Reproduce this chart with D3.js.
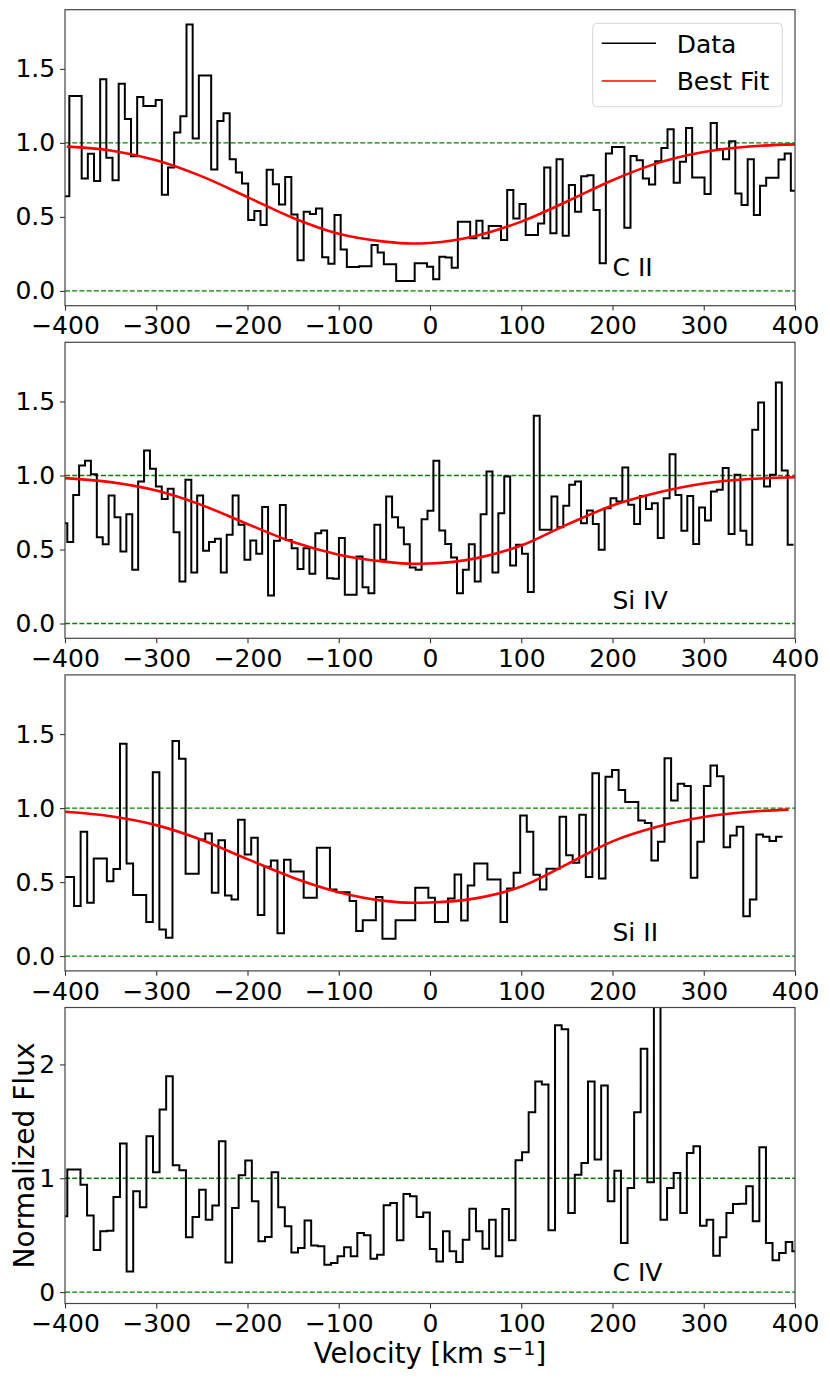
<!DOCTYPE html>
<html>
<head>
<meta charset="utf-8">
<script src="https://cdn.jsdelivr.net/npm/d3@7"></script>
<style>
  body { margin: 0; background: #fff; }
  svg { display: block; font-family: "DejaVu Sans", sans-serif; }
</style>
</head>
<body>
<svg id="chart" width="830" height="1384"></svg>
<script>
// ---- data ----
var velTicks = [-400, -300, -200, -100, 0, 100, 200, 300, 400];
var ionNames = ["C II", "Si IV", "Si II", "C IV"];

// C II : first bin edge and bin width in km/s, then flux per bin
var ciiStart = -402.0, ciiStep = 6.758;
var ciiFlux = [0.64, 1.317, 1.317,
  0.76, 0.926, 0.742, 1.43, 0.90, 0.748, 1.40, 1.162, 0.91, 1.31,
  1.25, 1.25, 1.29, 0.65, 0.834, 1.07, 1.18, 1.80, 1.03, 1.456,
  1.456, 0.82, 1.148, 1.20, 0.89, 0.80, 0.726, 0.479, 0.54, 0.445,
  0.818, 0.72, 0.584, 0.77, 0.517, 0.207, 0.535, 0.52, 0.557, 0.227,
  0.184, 0.512, 0.28, 0.162, 0.162, 0.166, 0.166, 0.31, 0.26, 0.18,
  0.18, 0.067, 0.067, 0.067, 0.186, 0.186, 0.164, 0.079, 0.231, 0.225,
  0.157, 0.467, 0.467, 0.355, 0.474, 0.355, 0.438, 0.438, 0.344, 0.681,
  0.49, 0.587, 0.378, 0.378, 0.456, 0.834, 0.389, 0.89, 0.373, 0.715,
  0.535, 0.775, 0.782, 0.546, 0.187, 0.928, 0.973, 0.973, 0.427, 0.912,
  0.883, 0.76, 0.719, 0.876, 0.966, 1.092, 0.73, 0.872, 1.10, 0.766,
  0.766, 0.654, 1.135, 0.957, 0.89, 1.011, 0.658, 0.58, 0.89, 0.512,
  0.71, 0.764, 0.764, 0.888, 0.928, 0.676];
var ciiFitVel  = [-398, -350, -300, -250, -200, -150, -100, -50, -20, 0, 50, 100, 150, 200, 250, 300, 350, 400];
var ciiFitFlux = [0.975, 0.949, 0.883, 0.774, 0.634, 0.493, 0.386, 0.333, 0.32, 0.324, 0.371, 0.468, 0.604, 0.748, 0.865, 0.939, 0.976, 0.99];

// Si IV
var siivStart = -403.95, siivStep = 6.471;
var siivFlux = [0.678, 0.55, 0.869, 1.068, 1.099, 1.009, 0.583, 0.536, 0.865, 0.718,
  0.486, 0.739, 0.363, 0.959, 1.169, 1.045, 0.926, 0.842, 0.91, 0.617,
  0.284, 0.971, 0.345, 0.865, 0.491, 0.55, 0.572, 0.345, 0.599, 0.865,
  0.667, 0.43, 0.561, 0.471, 0.788, 0.189, 0.559, 0.80, 0.565, 0.509,
  0.369, 0.509, 0.336, 0.61, 0.628, 0.306, 0.302, 0.577, 0.194, 0.194,
  0.453, 0.245, 0.205, 0.667, 0.43, 0.858, 0.718, 0.649, 0.536, 0.378,
  0.363, 0.705, 0.761, 1.099, 0.628, 0.538, 0.446, 0.205, 0.363, 0.536,
  0.284, 0.739, 1.027, 0.345, 0.745, 0.993, 0.392, 0.532, 0.471, 0.212,
  1.403, 0.633, 0.633, 0.858, 0.651, 0.795, 0.937, 0.959, 0.678, 0.764,
  0.673, 0.498, 0.779, 0.847, 0.824, 1.054, 0.802, 0.673, 0.862, 0.773,
  0.813, 0.577, 0.847, 1.144, 0.869, 0.626, 0.862, 0.538, 0.784, 0.696,
  0.892, 0.903, 1.05, 0.604, 1.005, 0.626, 0.532, 1.309, 1.493, 0.926,
  1.005, 1.628, 1.034, 0.532];
var siivFitVel  = [-400, -350, -300, -250, -200, -150, -100, -50, -20, 0, 50, 100, 150, 200, 250, 300, 350, 400];
var siivFitFlux = [0.982, 0.955, 0.898, 0.80, 0.672, 0.55, 0.465, 0.418, 0.403, 0.405, 0.44, 0.527, 0.668, 0.797, 0.885, 0.946, 0.976, 0.988];

// Si II
var siiiStart = -404.45, siiiStep = 7.19;
var siiiFlux = [0.534, 0.534, 0.338, 0.84, 0.36, 0.66, 0.66, 0.505, 0.588, 1.435,
  0.626, 0.412, 0.412, 0.23, 1.243, 0.18, 0.124, 1.453, 1.333, 0.556,
  0.556, 0.788, 0.829, 0.428, 0.782, 0.41, 0.383, 0.921, 0.687, 0.80,
  0.277, 0.604, 0.646, 0.155, 0.651, 0.572, 0.572, 0.394, 0.394, 0.732,
  0.732, 0.45, 0.432, 0.432, 0.372, 0.169, 0.243, 0.243, 0.399, 0.117,
  0.117, 0.243, 0.243, 0.243, 0.462, 0.462, 0.394, 0.23, 0.23, 0.39,
  0.552, 0.241, 0.477, 0.626, 0.626, 0.518, 0.518, 0.23, 0.457, 0.563,
  0.95, 0.84, 0.55, 0.45, 0.59, 0.59, 0.941, 0.682, 0.631, 0.955,
  0.534, 1.236, 0.525, 1.212, 1.257, 1.122, 1.041, 1.041, 0.917, 0.90,
  0.646, 0.773, 1.336, 1.052, 1.164, 1.149, 0.529, 0.773, 1.149, 1.288,
  1.216, 0.736, 0.815, 0.874, 0.27, 0.383, 0.822, 0.806, 0.777, 0.806];
var siiiFitVel  = [-400, -350, -300, -250, -200, -150, -100, -50, -20, 0, 50, 100, 150, 200, 250, 300, 350, 393];
var siiiFitFlux = [0.975, 0.945, 0.885, 0.785, 0.655, 0.53, 0.432, 0.373, 0.36, 0.362, 0.39, 0.47, 0.62, 0.775, 0.875, 0.94, 0.975, 0.99];

// C IV (no fit)
var civStart = -404.7, civStep = 7.223;
var civFlux = [0.666, 1.076, 1.076, 0.944, 0.672, 0.37, 0.534, 0.54, 0.836, 1.305,
  0.182, 0.886, 0.745, 1.37, 1.053, 1.604, 1.897, 1.114, 1.07, 0.481,
  0.66, 0.90, 0.636, 0.76, 1.326, 0.261, 0.739, 1.026, 1.155, 0.798,
  0.446, 0.484, 1.053, 0.745, 0.578, 0.349, 0.387, 0.628, 0.41, 0.402,
  0.24, 0.255, 0.314, 0.393, 0.314, 0.519, 0.499, 0.293, 0.328, 0.762,
  0.783, 0.455, 0.862, 0.842, 0.66, 0.70, 0.378, 0.27, 0.534, 0.358,
  0.264, 0.46, 0.733, 0.534, 0.381, 0.636, 0.314, 0.73, 0.455, 1.158,
  1.229, 1.581, 1.85, 1.824, 0.543, 2.343, 2.308, 0.695, 1.032, 1.135,
  1.85, 1.164, 1.815, 0.798, 1.067, 0.431, 0.915, 1.581, 2.138, 0.965,
  3.0, 0.636, 0.915, 1.047, 0.695, 1.223, 1.282, 0.584, 0.636, 0.32,
  0.481, 0.695, 0.774, 0.777, 0.93, 0.622, 1.273, 0.431, 0.279, 0.343,
  0.44, 0.358];

var fluxTicksA = [0, 0.5, 1, 1.5];
var fluxTicksB = [0, 1, 2];

// ---- layout ----
var left = 65, right = 795, panelTop = 9.7, panelH = 296, panelGap = 332.6;
var svg = d3.select("#chart");
svg.append("rect").attr("width", 830).attr("height", 1384).attr("fill", "#fff");

var panels = [
  {name: ionNames[0], start: ciiStart, step: ciiStep, flux: ciiFlux, fitV: ciiFitVel, fitF: ciiFitFlux, ydom: [-0.1, 1.9], ticks: fluxTicksA, fmt: ".1f"},
  {name: ionNames[1], start: siivStart, step: siivStep, flux: siivFlux, fitV: siivFitVel, fitF: siivFitFlux, ydom: [-0.1, 1.9], ticks: fluxTicksA, fmt: ".1f"},
  {name: ionNames[2], start: siiiStart, step: siiiStep, flux: siiiFlux, fitV: siiiFitVel, fitF: siiiFitFlux, ydom: [-0.1, 1.9], ticks: fluxTicksA, fmt: ".1f"},
  {name: ionNames[3], start: civStart, step: civStep, flux: civFlux, fitV: null, fitF: null, ydom: [-0.1, 2.5], ticks: fluxTicksB, fmt: "d"}
];

var x = d3.scaleLinear().domain([-400, 400]).range([left, right]);

panels.forEach(function(p, i) {
  var top = panelTop + i * panelGap, bottom = top + panelH;
  var y = d3.scaleLinear().domain(p.ydom).range([bottom, top]);
  var g = svg.append("g");

  var clipId = "clip" + i;
  svg.append("clipPath").attr("id", clipId)
    .append("rect").attr("x", left).attr("y", top).attr("width", right - left).attr("height", panelH);

  var plot = g.append("g").attr("clip-path", "url(#" + clipId + ")");

  // reference levels
  [0, 1].forEach(function(lv) {
    plot.append("line")
      .attr("x1", left).attr("x2", right)
      .attr("y1", y(lv)).attr("y2", y(lv))
      .attr("stroke", "#008000").attr("stroke-width", 1.3)
      .attr("stroke-dasharray", "5,2.2");
  });

  // step histogram of the data
  var pts = p.flux.map(function(f, k) { return [p.start + k * p.step, f]; });
  pts.push([p.start + p.flux.length * p.step, p.flux[p.flux.length - 1]]);
  var stepLine = d3.line().x(function(d) { return x(d[0]); }).y(function(d) { return y(d[1]); })
    .curve(d3.curveStepAfter);
  plot.append("path").datum(pts).attr("d", stepLine)
    .attr("fill", "none").attr("stroke", "#000").attr("stroke-width", 2)
    .attr("stroke-linejoin", "miter");

  // best fit
  if (p.fitV) {
    var fitPts = p.fitV.map(function(v, k) { return [v, p.fitF[k]]; });
    var fitLine = d3.line().x(function(d) { return x(d[0]); }).y(function(d) { return y(d[1]); })
      .curve(d3.curveMonotoneX);
    plot.append("path").datum(fitPts).attr("d", fitLine)
      .attr("fill", "none").attr("stroke", "#ff0000").attr("stroke-width", 2.6);
  }

  // ion label
  g.append("text").attr("x", x(200)).attr("y", y(0.1))
    .attr("font-size", 25).attr("fill", "#000").text(p.name);

  // axes
  var xAxis = d3.axisBottom(x).tickValues(velTicks).tickSize(4.9).tickPadding(6).tickSizeOuter(0);
  var gx = g.append("g").attr("transform", "translate(0," + bottom + ")").call(xAxis);
  var yAxis = d3.axisLeft(y).tickValues(p.ticks).tickFormat(d3.format(p.fmt)).tickSize(4.9).tickPadding(4.9).tickSizeOuter(0);
  var gy = g.append("g").attr("transform", "translate(" + left + ",0)").call(yAxis);
  [gx, gy].forEach(function(ax) {
    ax.select(".domain").remove();
    ax.attr("font-size", 25).attr("font-family", "DejaVu Sans, sans-serif");
    ax.selectAll(".tick line").attr("stroke", "#333").attr("stroke-width", 1.1);
    ax.selectAll(".tick text").attr("fill", "#000");
  });

  // frame
  g.append("rect").attr("x", left).attr("y", top).attr("width", right - left).attr("height", panelH)
    .attr("fill", "none").attr("stroke", "#444").attr("stroke-width", 1.2);

  if (i === 0) {
    var lg = g.append("g");
    lg.append("rect").attr("x", 592.7).attr("y", 23.3).attr("width", 189.6).attr("height", 83.4)
      .attr("rx", 4).attr("fill", "#fff").attr("fill-opacity", 0.8)
      .attr("stroke", "#d6d6d6").attr("stroke-width", 1);
    [["Data", "#000", 43.3], ["Best Fit", "#ff0000", 81]].forEach(function(it) {
      lg.append("line").attr("x1", 601.7).attr("x2", 656).attr("y1", it[2]).attr("y2", it[2])
        .attr("stroke", it[1]).attr("stroke-width", 1.4);
      lg.append("text").attr("x", 676.7).attr("y", it[2] + 9.4)
        .attr("font-size", 25).attr("fill", "#000").text(it[0]);
    });
  }
});

// axis titles
var xl = svg.append("text").attr("x", (left + right) / 2).attr("y", 1363)
  .attr("text-anchor", "middle").attr("font-size", 27.5).attr("fill", "#000");
xl.append("tspan").text("Velocity [km s");
xl.append("tspan").attr("font-size", 19.3).attr("dy", -8).text("\u22121");
xl.append("tspan").attr("dy", 8).text("]");

svg.append("text").attr("transform", "translate(33.5," + (panelTop + 3 * panelGap + panelH / 2) + ") rotate(-90)")
  .attr("text-anchor", "middle").attr("font-size", 28).attr("fill", "#000")
  .text("Normalized Flux");
</script>
</body>
</html>
